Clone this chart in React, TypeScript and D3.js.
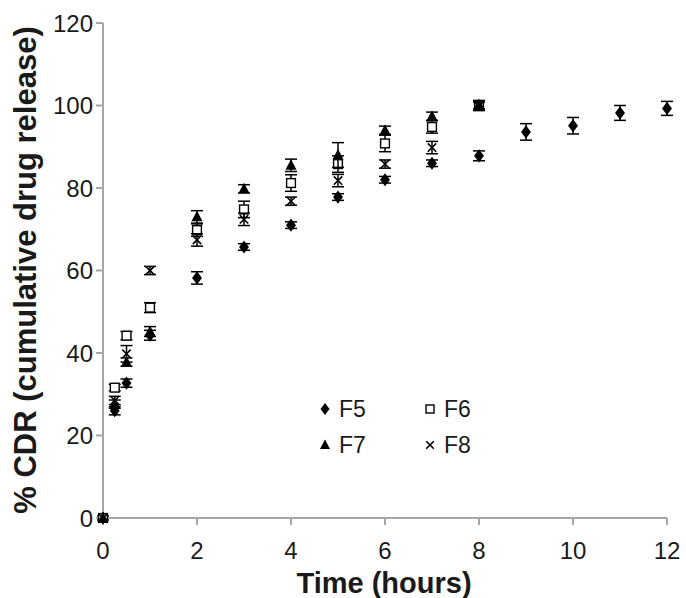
import React from "react";
import * as d3 from "d3";

const times = [0, 0.25, 0.5, 1, 2, 3, 4, 5, 6, 7, 8, 9, 10, 11, 12];
const timesShort = [0, 0.25, 0.5, 1, 2, 3, 4, 5, 6, 7, 8];

const f5 = [0, 26, 32.7, 44.3, 58.2, 65.7, 71, 77.8, 82, 86, 87.8, 93.6, 95.1, 98.2, 99.3];
const f5Err = [0.5, 1, 1, 1.2, 1.5, 0.8, 0.8, 0.8, 0.8, 0.8, 1.2, 2, 2, 1.8, 1.7];
const f6 = [0, 31.6, 44.2, 51, 69.8, 74.8, 81.2, 85.8, 90.8, 94.8, 100];
const f6Err = [0, 0.8, 1, 1.2, 1.5, 2, 2, 2, 2, 1.5, 1.2];
const f7 = [0, 27.6, 37.8, 45.2, 73, 79.8, 85.5, 88, 94, 97.4, 100.2];
const f7Err = [0, 1, 1, 1.2, 1.5, 1, 1.5, 3, 1, 1, 1];
const f8 = [0, 28.5, 39.8, 60, 67.4, 72.4, 76.8, 81.8, 85.8, 89.8, 99.8];
const f8Err = [0, 1, 2, 1, 1.5, 1.5, 1, 1.5, 1, 1.5, 1];

const xTicks = [0, 2, 4, 6, 8, 10, 12];
const yTicks = [0, 20, 40, 60, 80, 100, 120];

const legendItems = [
  { name: "F5", shape: "diamond", col: 0, row: 0 },
  { name: "F6", shape: "square", col: 1, row: 0 },
  { name: "F7", shape: "triangle", col: 0, row: 1 },
  { name: "F8", shape: "x", col: 1, row: 1 },
];

const FONT = "Liberation Sans, Arial, sans-serif";
const TEXT = "#1a1a1a";
const AXIS = "#a6a6a6";

function Marker({ shape, cx, cy, s }: { shape: string; cx: number; cy: number; s: number }) {
  if (shape === "diamond") {
    const p = d3.path();
    p.moveTo(cx, cy - s * 0.6);
    p.lineTo(cx + s * 0.45, cy);
    p.lineTo(cx, cy + s * 0.6);
    p.lineTo(cx - s * 0.45, cy);
    p.closePath();
    return <path d={p.toString()} fill="#000" />;
  }
  if (shape === "square") {
    const h = s * 0.4;
    return <rect x={cx - h} y={cy - h} width={2 * h} height={2 * h} fill="#fff" stroke="#000" strokeWidth={1.4} />;
  }
  if (shape === "triangle") {
    const p = d3.path();
    p.moveTo(cx, cy - s * 0.55);
    p.lineTo(cx + s * 0.5, cy + s * 0.4);
    p.lineTo(cx - s * 0.5, cy + s * 0.4);
    p.closePath();
    return <path d={p.toString()} fill="#000" />;
  }
  const h = s * 0.38;
  const p = d3.path();
  p.moveTo(cx - h, cy - h);
  p.lineTo(cx + h, cy + h);
  p.moveTo(cx + h, cy - h);
  p.lineTo(cx - h, cy + h);
  return <path d={p.toString()} stroke="#000" strokeWidth={1.6} fill="none" />;
}

export default function App() {
  const W = 686;
  const H = 598;
  const x = d3.scaleLinear().domain([0, 12]).range([103, 667]);
  const y = d3.scaleLinear().domain([0, 120]).range([518, 23]);

  const series = [
    { name: "F5", shape: "diamond", t: times, v: f5, e: f5Err },
    { name: "F6", shape: "square", t: timesShort, v: f6, e: f6Err },
    { name: "F7", shape: "triangle", t: timesShort, v: f7, e: f7Err },
    { name: "F8", shape: "x", t: timesShort, v: f8, e: f8Err },
  ];

  const cap = 6;

  return (
    <svg width={W} height={H} style={{ position: "absolute", left: 0, top: 0, background: "#fff" }} fontFamily={FONT}>
      <rect width={W} height={H} fill="#fff" />
      {/* axes */}
      <line x1={x(0)} x2={x(0)} y1={y(120)} y2={y(0)} stroke={AXIS} strokeWidth={2} />
      <line x1={x(0)} x2={x(12)} y1={y(0)} y2={y(0)} stroke={AXIS} strokeWidth={2} />
      {yTicks.map((t) => (
        <g key={"yt" + t}>
          <line x1={x(0) - 7} x2={x(0)} y1={y(t)} y2={y(t)} stroke={AXIS} strokeWidth={2} />
          <text x={x(0) - 10} y={y(t)} dy="0.36em" textAnchor="end" fontSize={24} fill={TEXT}>
            {t}
          </text>
        </g>
      ))}
      {xTicks.map((t) => (
        <g key={"xt" + t}>
          <line x1={x(t)} x2={x(t)} y1={y(0)} y2={y(0) + 7} stroke={AXIS} strokeWidth={2} />
          <text x={x(t)} y={y(0) + 41} textAnchor="middle" fontSize={24} fill={TEXT}>
            {t}
          </text>
        </g>
      ))}
      <text x={384} y={593} textAnchor="middle" fontSize={29} fontWeight="bold" fill={TEXT}>
        Time (hours)
      </text>
      <text
        transform={`translate(36, 270) rotate(-90)`}
        textAnchor="middle"
        fontSize={31}
        fontWeight="bold"
        fill={TEXT}
      >
        % CDR (cumulative drug release)
      </text>

      {/* data */}
      {series.map((s) => (
        <g key={s.name}>
          {s.t.map((t, i) => {
            const cx = x(t);
            const e = s.e[i];
            if (e <= 0) return null;
            return (
              <g key={"e" + i} stroke="#000" strokeWidth={1.5}>
                <line x1={cx} x2={cx} y1={y(s.v[i] + e)} y2={y(s.v[i] - e)} />
                <line x1={cx - cap} x2={cx + cap} y1={y(s.v[i] + e)} y2={y(s.v[i] + e)} />
                <line x1={cx - cap} x2={cx + cap} y1={y(s.v[i] - e)} y2={y(s.v[i] - e)} />
              </g>
            );
          })}
          {s.t.map((t, i) => (
            <Marker key={"m" + i} shape={s.shape} cx={x(t)} cy={y(s.v[i])} s={11} />
          ))}
        </g>
      ))}

      {/* legend */}
      {legendItems.map((it) => {
        const lx = 325 + it.col * 105;
        const ly = 409 + it.row * 36;
        return (
          <g key={"lg" + it.name}>
            <Marker shape={it.shape} cx={lx} cy={ly} s={10} />
            <text x={lx + 14} y={ly} dy="0.36em" fontSize={23} fill={TEXT}>
              {it.name}
            </text>
          </g>
        );
      })}
    </svg>
  );
}
